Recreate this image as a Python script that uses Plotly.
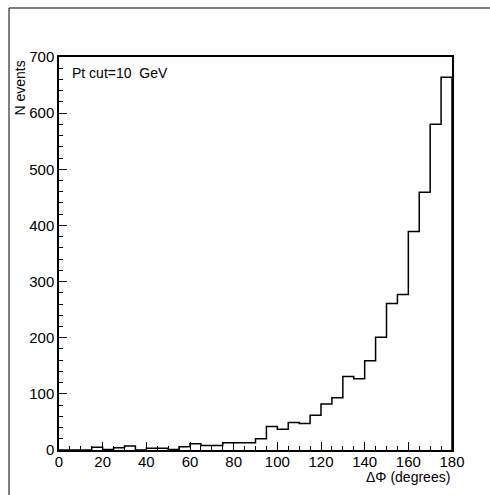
import plotly.graph_objects as go

bin_edges = list(range(0, 185, 5))
counts = [0, 0, 0, 5, 1, 4, 7, 0, 3, 3, 1, 6,
          11, 8, 8, 13, 13, 13, 20, 42, 37, 49, 47, 62,
          82, 93, 131, 127, 159, 201, 261, 277, 389, 459, 580, 664]
x_ticks = [0, 20, 40, 60, 80, 100, 120, 140, 160, 180]
y_ticks = [0, 100, 200, 300, 400, 500, 600, 700]

FONT = "Liberation Sans, Arial, Helvetica, sans-serif"

xs = [0] + bin_edges
ys = [0] + counts + [0]

fig = go.Figure()
fig.add_trace(go.Scatter(x=xs, y=ys, mode="lines", line=dict(shape="hv", color="black", width=1.5),
                         hoverinfo="skip", showlegend=False))

fig.update_layout(
    width=490, height=495,
    margin=dict(l=59, r=38, t=57, b=45),
    paper_bgcolor="white", plot_bgcolor="white",
    font=dict(family=FONT, color="black", size=15),
    xaxis=dict(range=[0, 180], tickvals=x_ticks, ticktext=[str(v) for v in x_ticks],
               ticks="inside", ticklen=8, tickwidth=1, tickcolor="black",
               minor=dict(dtick=5, ticks="inside", ticklen=4, tickcolor="black", tickwidth=1),
               showline=True, linecolor="black", linewidth=1.5, mirror=True,
               showgrid=False, zeroline=False, tickfont=dict(size=15), ticklabelstandoff=-3),
    yaxis=dict(range=[0, 700], tickvals=y_ticks, ticktext=[str(v) for v in y_ticks],
               ticks="inside", ticklen=8, tickwidth=1, tickcolor="black",
               minor=dict(dtick=20, ticks="inside", ticklen=4, tickcolor="black", tickwidth=1),
               showline=True, linecolor="black", linewidth=1.5, mirror=True,
               showgrid=False, zeroline=False, tickfont=dict(size=15)),
    annotations=[
        dict(text="Pt cut=10  GeV", xref="paper", yref="paper", x=0.028, y=0.96,
             xanchor="left", yanchor="middle", showarrow=False, font=dict(size=14)),
        dict(text="ΔΦ (degrees)", xref="paper", yref="paper", x=1.0, y=-0.069,
             xanchor="right", yanchor="middle", showarrow=False, font=dict(size=14)),
        dict(text="N events", xref="paper", yref="paper", x=-0.099, y=0.92,
             xanchor="center", yanchor="middle", textangle=-90, showarrow=False,
             font=dict(size=14)),
    ],
    shapes=[
        dict(type="line", xref="paper", yref="paper", x0=-0.1272, x1=1.2, y0=1.1247, y1=1.1247,
             line=dict(color="black", width=1)),
        dict(type="line", xref="paper", yref="paper", x0=-0.1272, x1=-0.1272, y0=1.1247, y1=-0.2,
             line=dict(color="black", width=1)),
    ],
)

fig.write_html("out.html")
